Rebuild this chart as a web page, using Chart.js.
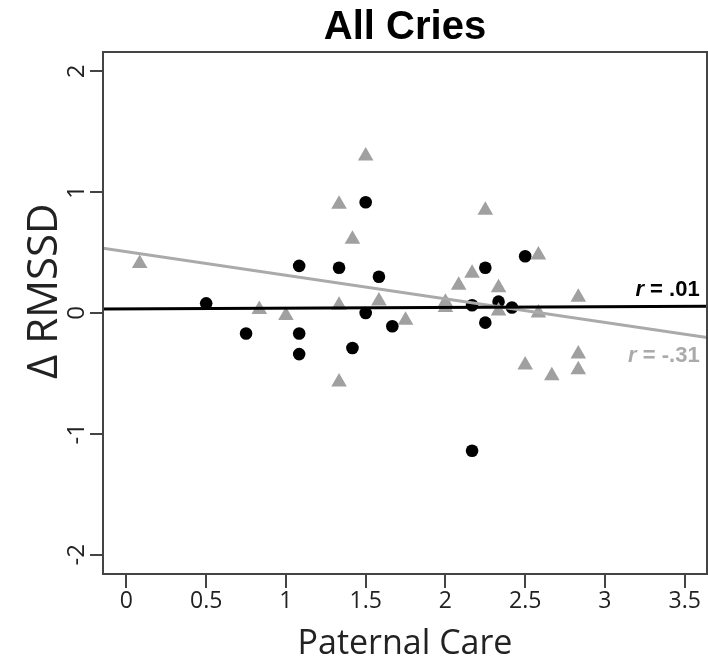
<!DOCTYPE html>
<html>
<head>
<meta charset="utf-8">
<title>All Cries</title>
<script src="https://cdn.jsdelivr.net/npm/chart.js"></script>
<style>
  html, body { margin: 0; padding: 0; background: #fff; }
</style>
</head>
<body>
<canvas id="criesChart" width="708" height="665"></canvas>
<script>
// black dots
const dotX = [0.5, 0.75, 1.083, 1.083, 1.083, 1.333, 1.417, 1.5, 1.5, 1.583, 1.667, 2.167, 2.167, 2.25, 2.25, 2.333, 2.417, 2.5];
const dotY = [0.08, -0.17, 0.39, -0.17, -0.34, 0.375, -0.29, 0.917, 0.0, 0.30, -0.11, 0.064, -1.14, 0.375, -0.08, 0.094, 0.045, 0.47];

// grey triangles
const triX = [0.083, 0.833, 1.0, 1.333, 1.333, 1.333, 1.417, 1.5, 1.583, 1.75, 2.0, 2.0, 2.083, 2.167, 2.25, 2.333, 2.333, 2.5, 2.583, 2.583, 2.667, 2.833, 2.833, 2.833];
const triY = [0.41, 0.03, -0.02, 0.90, 0.064, -0.57, 0.61, 1.30, 0.10, -0.06, 0.09, 0.045, 0.23, 0.33, 0.85, 0.21, 0.017, -0.43, 0.48, 0.0, -0.52, 0.13, -0.34, -0.47];

// fitted lines: [black, grey]
const fitIntercept = [0.033, 0.507];
const fitSlope = [0.006, -0.195];
const fitLabels = ['.01', '-.31'];

const xTicks = [0, 0.5, 1, 1.5, 2, 2.5, 3, 3.5];
const yTicks = [-2, -1, 0, 1, 2];
const xMin = -0.147, xMax = 3.64;
const yMin = -2.16, yMax = 2.16;

const toPoints = (xs, ys) => xs.map((x, i) => ({ x: x, y: ys[i] }));
const fitLine = i => [xMin, xMax].map(x => ({ x: x, y: fitIntercept[i] + fitSlope[i] * x }));

const boxAndLabels = {
    id: 'boxAndLabels',
    afterDatasetsDraw(chart) {
        const ctx = chart.ctx;
        const a = chart.chartArea;
        const xs = chart.scales.x, ys = chart.scales.y;
        ctx.save();
        ctx.strokeStyle = '#444';
        ctx.lineWidth = 2;
        ctx.strokeRect(a.left, a.top, a.right - a.left, a.bottom - a.top);

        // rotated y tick labels
        ctx.fillStyle = '#222';
        ctx.font = '24px "Open Sans"';
        ctx.textAlign = 'center';
        ctx.textBaseline = 'middle';
        yTicks.forEach(v => {
            ctx.save();
            ctx.translate(77, ys.getPixelForValue(v));
            ctx.rotate(-Math.PI / 2);
            ctx.fillText(String(v), 0, 0);
            ctx.restore();
        });

        // r labels
        const colors = ['#000', '#aaa'];
        const labelY = [0.188, -0.355];
        ctx.textAlign = 'left';
        fitLabels.forEach((t, i) => {
            const rest = ' = ' + t;
            ctx.font = 'bold 22px "Liberation Sans"';
            const wRest = ctx.measureText(rest).width;
            ctx.font = 'italic bold 22px "Liberation Sans"';
            const wR = ctx.measureText('r').width;
            const right = xs.getPixelForValue(3.594);
            const y = ys.getPixelForValue(labelY[i]);
            ctx.fillStyle = colors[i];
            ctx.fillText('r', right - wRest - wR, y);
            ctx.font = 'bold 22px "Liberation Sans"';
            ctx.fillText(rest, right - wRest, y);
        });
        ctx.restore();
    }
};

new Chart(document.getElementById('criesChart'), {
    type: 'scatter',
    data: {
        datasets: [
            { type: 'line', data: fitLine(0), borderColor: '#000', borderWidth: 3, pointRadius: 0 },
            { type: 'line', data: fitLine(1), borderColor: '#aaa', borderWidth: 3, pointRadius: 0 },
            { data: toPoints(triX, triY), pointStyle: 'triangle', pointRadius: 9, backgroundColor: '#a0a0a0', borderWidth: 0 },
            { data: toPoints(dotX, dotY), pointStyle: 'circle', pointRadius: 6.3, backgroundColor: '#000', borderWidth: 0 }
        ]
    },
    options: {
        responsive: false,
        animation: false,
        layout: { autoPadding: false, padding: { right: 1 } },
        plugins: {
            legend: { display: false },
            tooltip: { enabled: false },
            title: {
                display: true,
                text: 'All Cries',
                fullSize: false,
                color: '#000',
                font: { family: 'Liberation Sans', weight: 'bold', size: 40, lineHeight: 1.2 },
                padding: { top: 4, bottom: 0 }
            }
        },
        scales: {
            x: {
                type: 'linear',
                min: xMin,
                max: xMax,
                afterBuildTicks: s => { s.ticks = xTicks.map(v => ({ value: v })); },
                afterFit: s => { s.height = 91; s.paddingLeft = 0; s.paddingRight = 0; },
                border: { display: false },
                grid: { drawOnChartArea: false, drawTicks: true, tickLength: 14, color: '#444', lineWidth: 2 },
                ticks: {
                    autoSkip: false,
                    maxRotation: 0,
                    padding: 0,
                    color: '#222',
                    font: { family: 'Open Sans', size: 23 },
                    callback: v => String(v)
                },
                title: {
                    display: true,
                    text: 'Paternal Care',
                    color: '#222',
                    font: { family: 'Open Sans', size: 34, lineHeight: 1 },
                    padding: { top: 0, bottom: 4 }
                }
            },
            y: {
                type: 'linear',
                min: yMin,
                max: yMax,
                afterBuildTicks: s => { s.ticks = yTicks.map(v => ({ value: v })); },
                afterFit: s => { s.width = 103; s.paddingTop = 0; s.paddingBottom = 0; },
                border: { display: false },
                grid: { drawOnChartArea: false, drawTicks: true, tickLength: 13, color: '#444', lineWidth: 2 },
                ticks: { display: false },
                title: {
                    display: true,
                    text: '    Δ RMSSD',
                    color: '#222',
                    font: { family: 'Open Sans', size: 42, lineHeight: 1 },
                    padding: { top: 24, bottom: 0 }
                }
            }
        }
    },
    plugins: [boxAndLabels]
});
</script>
</body>
</html>
